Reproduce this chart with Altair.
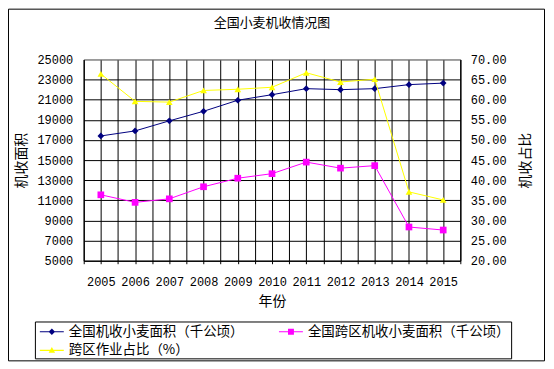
import altair as alt
import pandas as pd

years = list(range(2005, 2016))
area_total = [17400, 17900, 18900, 19850, 20950, 21500, 22100, 22000, 22100, 22500, 22650]
area_cross = [11550, 10800, 11150, 12350, 13200, 13650, 14800, 14200, 14450, 8350, 8050]
cross_ratio = [66.4, 59.6, 59.4, 62.3, 62.6, 63.1, 66.7, 64.4, 65.1, 37.1, 35.1]

s1 = "全国机收小麦面积（千公顷）"
s2 = "全国跨区机收小麦面积（千公顷）"
s3 = "跨区作业占比（%）"
series_names = [s1, s2, s3]
series_colors = ["#000080", "#FF00FF", "#FFFF00"]

rows = []
for name, vals in zip(series_names, [area_total, area_cross, cross_ratio]):
    for y, v in zip(years, vals):
        rows.append({"series": name, "year": y, "value": v})
df = pd.DataFrame(rows)

CJK = "Noto Sans CJK SC"
NUM = "Liberation Mono"

x_values = [years[0] - 0.5] + [v for y in years for v in (y, y + 0.5)]
x_enc = alt.X(
    "year:Q",
    scale=alt.Scale(domain=[years[0] - 0.5, years[-1] + 0.5], nice=False, zero=False),
    axis=alt.Axis(
        values=x_values,
        labelExpr="datum.value % 1 === 0 ? '' + datum.value : ''",
        labelOverlap=False,
        labelBaseline="middle",
        labelPadding=18,
        tickSize=3,
        tickColor="black",
        grid=True,
        gridColor="black",
        gridWidth=1,
        title="年份",
        titleX=189,
        titleY=41,
        titleBaseline="middle",
        titleAlign="center",
    ),
)

y_left = alt.Y(
    "value:Q",
    scale=alt.Scale(domain=[5000, 25000], nice=False, zero=False),
    axis=alt.Axis(
        orient="left",
        values=list(range(5000, 25001, 2000)),
        format="d",
        ticks=False,
        labelPadding=11,
        grid=True,
        gridColor={"condition": {"test": "datum.value === 25000", "value": "#808080"}, "value": "black"},
        gridWidth=1,
        title="机收面积",
        titleAngle=270,
        titleX=-62,
        titleY=101,
        titleBaseline="middle",
        titleAlign="center",
    ),
)

y_right = alt.Y(
    "value:Q",
    scale=alt.Scale(domain=[20, 70], nice=False, zero=False),
    axis=alt.Axis(
        orient="right",
        values=list(range(20, 71, 5)),
        format=".2f",
        ticks=False,
        labelPadding=10,
        grid=False,
        title="机收占比",
        titleAngle=270,
        titleX=65,
        titleY=101,
        titleBaseline="middle",
        titleAlign="center",
    ),
)

base = alt.Chart(df)


def series_layer(name, color, shape, y_enc):
    d = base.transform_filter(alt.datum.series == name)
    line = d.mark_line(color=color, strokeWidth=1).encode(x=x_enc, y=y_enc)
    pts = d.mark_point(shape=shape, filled=True, color=color, size=45, opacity=1).encode(x=x_enc, y=y_enc)
    return line + pts


left = alt.layer(
    series_layer(s1, series_colors[0], "diamond", y_left),
    series_layer(s2, series_colors[1], "square", y_left),
)
right = series_layer(s3, series_colors[2], "triangle-up", y_right)

# legend symbols: a thin bar (the line) plus the marker, as filled paths
legend_shapes = [
    "M-0.56,-0.06H2.11V0.06H-0.56ZM0.78,-0.36L1.14,0L0.78,0.36L0.42,0Z",
    "M-0.56,-0.06H2.11V0.06H-0.56ZM0.45,-0.33H1.11V0.33H0.45Z",
    "M-0.56,-0.06H2.11V0.06H-0.56ZM0.78,-0.38L1.14,0.26L0.42,0.26Z",
]
leg = alt.Legend(
    title=None,
    orient="none",
    direction="horizontal",
    legendX=-49,
    legendY=263,
    columns=2,
    columnPadding=31,
    rowPadding=3,
    padding=1,
    symbolSize=324,
    symbolStrokeWidth=0,
    labelFont=CJK,
    labelFontSize=13.5,
    labelColor="black",
    labelLimit=400,
    labelOffset=15,
    strokeColor="black",
    fillColor="white",
)
legend_layer = base.transform_filter("false").mark_point(size=324, opacity=1, filled=True, strokeWidth=0).encode(
    fill=alt.Fill("series:N", scale=alt.Scale(domain=series_names, range=series_colors), legend=leg),
    shape=alt.Shape("series:N", scale=alt.Scale(domain=series_names, range=legend_shapes), legend=leg),
)

frame = alt.Chart(pd.DataFrame({"k": [0]})).mark_rect(fillOpacity=0, stroke="black", strokeWidth=1).encode(
    x=alt.value(-75.5), x2=alt.value(462.5), y=alt.value(-50.5), y2=alt.value(302.5)
)

chart = (
    alt.layer(frame, left, right, legend_layer)
    .resolve_scale(y="independent")
    .properties(
        width=378,
        height=202,
        autosize=alt.AutoSizeParams(type="none"),
        padding={"left": 76, "top": 51, "right": 86, "bottom": 103},
        title=alt.TitleParams(
            "全国小麦机收情况图",
            font=CJK,
            fontSize=13,
            fontWeight="normal",
            color="black",
            anchor="middle",
            offset=-21,
        ),
        background="white",
    )
    .configure_view(fill="#C0C0C0", stroke="#808080", strokeWidth=1)
    .configure_axis(
        labelFont=NUM,
        labelFontSize=12,
        labelColor="black",
        titleFont=CJK,
        titleFontSize=14,
        titleFontWeight="normal",
        titleColor="black",
        domainColor="black",
        domainWidth=1,
    )
)

chart.save("out.html", embed_options={"renderer": "svg", "actions": False})
